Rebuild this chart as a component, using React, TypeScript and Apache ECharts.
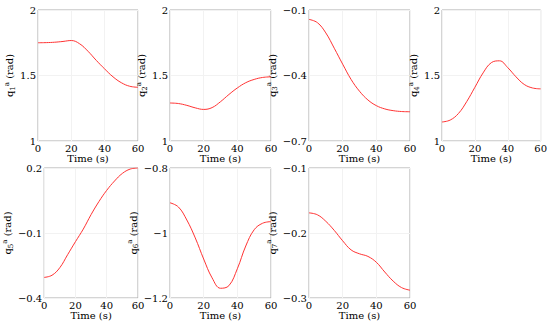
import React, { useEffect, useRef } from "react";
import * as echarts from "echarts";

const time = [0, 5, 10, 15, 20, 25, 30, 35, 40, 45, 50, 55, 60];

const q1 = [1.75, 1.751, 1.754, 1.76, 1.767, 1.742, 1.685, 1.615, 1.55, 1.49, 1.445, 1.418, 1.41];
const q2 = [1.29, 1.286, 1.272, 1.253, 1.241, 1.255, 1.3, 1.355, 1.405, 1.445, 1.47, 1.485, 1.49];
const q3 = [-0.143, -0.158, -0.205, -0.275, -0.348, -0.418, -0.472, -0.512, -0.538, -0.553, -0.561, -0.565, -0.566];
const q4 = [1.145, 1.16, 1.21, 1.3, 1.41, 1.52, 1.598, 1.612, 1.56, 1.49, 1.432, 1.405, 1.398];
const q5 = [-0.305, -0.295, -0.26, -0.2, -0.14, -0.082, -0.015, 0.045, 0.097, 0.14, 0.175, 0.195, 0.2];
const q6 = [-0.907, -0.92, -0.96, -1.015, -1.08, -1.138, -1.17, -1.162, -1.11, -1.04, -0.99, -0.97, -0.965];
const q7 = [-0.169, -0.172, -0.182, -0.196, -0.212, -0.226, -0.232, -0.236, -0.245, -0.26, -0.274, -0.284, -0.288];

const series = [q1, q2, q3, q4, q5, q6, q7];
const indices = ["1", "2", "3", "4", "5", "6", "7"];
const yRanges: [number, number][] = [
  [1, 2],
  [1, 2],
  [-0.7, -0.1],
  [1, 2],
  [-0.4, 0.2],
  [-1.2, -0.8],
  [-0.3, -0.1],
];

const gridLefts = [38, 170, 309, 442, 38, 170, 309];
const gridWidths = [100, 101, 101, 101, 100, 101, 101];
const gridTops = [10, 10, 10, 10, 168, 168, 168];
const gridHeights = [131, 131, 131, 131, 130, 130, 130];
const yNameGaps = [13, 13, 19, 17, 14, 11, 17];
const xNameGaps = [9, 9, 9, 9, 11, 11, 11];

const FONT = "DejaVu Serif";

function fmt(v: number) {
  const r = Math.round(v * 1000) / 1000;
  return String(r).replace("-", "\u2212");
}

export default function App() {
  const ref = useRef<HTMLDivElement>(null);
  useEffect(() => {
    if (!ref.current) return;
    const chart = echarts.init(ref.current, undefined, { renderer: "svg" });
    const grids = series.map((_, i) => ({
      left: gridLefts[i],
      top: gridTops[i],
      width: gridWidths[i],
      height: gridHeights[i],
      show: true,
      borderColor: "#aaaaaa",
      borderWidth: 1,
      backgroundColor: "transparent",
    }));
    const xAxes = series.map((_, i) => ({
      type: "value",
      gridIndex: i,
      min: 0,
      max: 60,
      interval: 20,
      name: "Time (s)",
      nameLocation: "middle",
      nameGap: xNameGaps[i],
      nameTextStyle: { fontFamily: FONT, fontSize: 10, fontWeight: "normal", color: "#000" },
      axisLine: { show: false },
      axisTick: { show: false },
      axisLabel: { fontFamily: FONT, fontSize: 10, fontWeight: "normal", color: "#000", margin: 2 },
      splitLine: { show: true, lineStyle: { color: "#f2f2f2", width: 1 } },
    }));
    const yAxes = series.map((_, i) => {
      const [mn, mx] = yRanges[i];
      const mid = (mn + mx) / 2;
      const vals = [mn, mid, mx];
      return {
        type: "value",
        gridIndex: i,
        min: mn,
        max: mx,
        name: "q{sub|" + indices[i] + "}{sup|a} (rad)",
        nameLocation: "middle",
        nameGap: yNameGaps[i],
        nameRotate: 90,
        nameTextStyle: {
          fontFamily: FONT,
          fontSize: 10,
          fontWeight: "normal",
          color: "#000",
          lineHeight: 13,
          rich: {
            sub: { fontFamily: FONT, fontSize: 7, color: "#000", verticalAlign: "bottom", lineHeight: 13 },
            sup: { fontFamily: FONT, fontSize: 7, color: "#000", verticalAlign: "top", lineHeight: 13 },
          },
        },
        axisLine: { show: false },
        axisTick: { show: false, customValues: vals },
        axisLabel: {
          fontFamily: FONT,
          fontSize: 10,
          fontWeight: "normal",
          color: "#000",
          margin: 2,
          customValues: vals,
          formatter: (v: number) => fmt(v),
        },
        splitLine: { show: true, lineStyle: { color: "#f2f2f2", width: 1 } },
      };
    });
    const ser = series.map((d, i) => ({
      type: "line",
      xAxisIndex: i,
      yAxisIndex: i,
      data: time.map((t, j) => [t, d[j]]),
      smooth: 0.4,
      showSymbol: false,
      lineStyle: { color: "#ff3333", width: 1 },
    }));
    chart.setOption({
      animation: false,
      backgroundColor: "#fff",
      textStyle: { fontFamily: FONT },
      grid: grids,
      xAxis: xAxes,
      yAxis: yAxes,
      series: ser,
    });
    return () => chart.dispose();
  }, []);
  return (
    <div
      ref={ref}
      style={{ position: "fixed", left: 0, top: 0, width: 550, height: 327 }}
    />
  );
}
